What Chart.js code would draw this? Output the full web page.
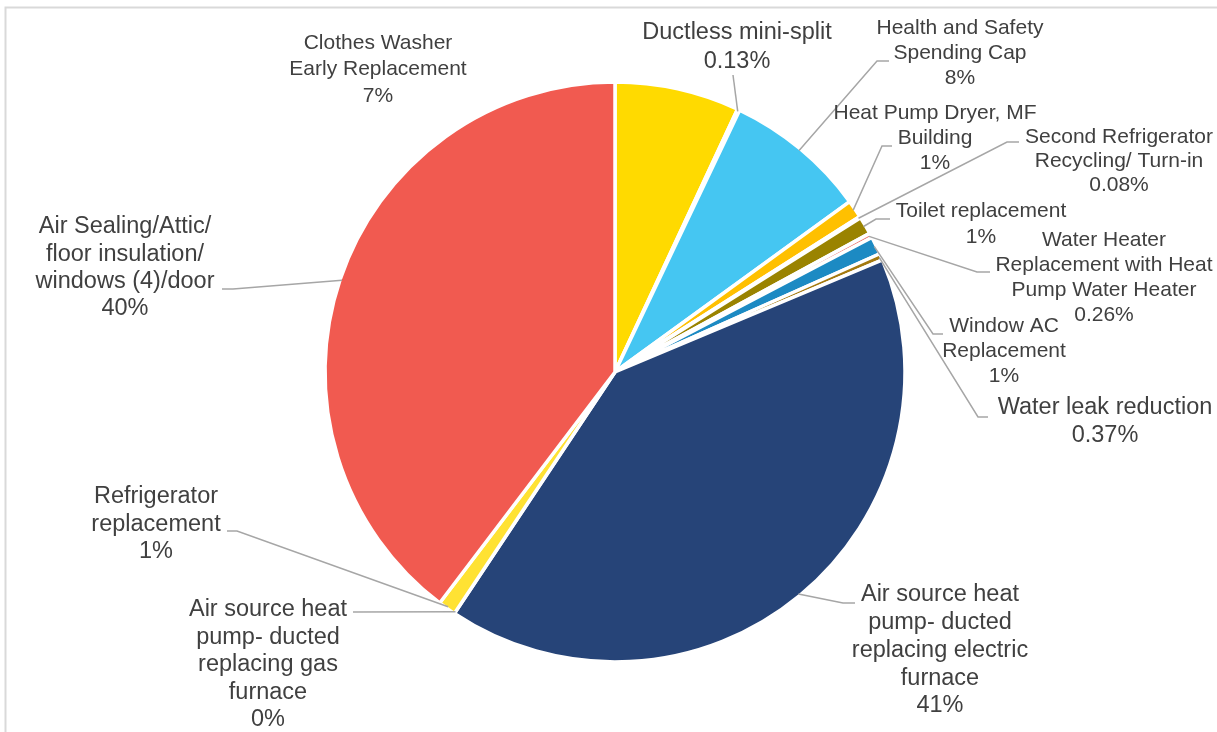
<!DOCTYPE html>
<html>
<head>
<meta charset="utf-8">
<script src="https://cdn.jsdelivr.net/npm/chart.js@4.4.1/dist/chart.umd.min.js"></script>
<style>
  html, body { margin: 0; padding: 0; background: #fff; }
  #wrap { position: relative; width: 1217px; height: 732px; }
</style>
</head>
<body>
<div id="wrap"><canvas id="pie"></canvas></div>
<script>
// measures, clockwise from 12 o'clock ("\n" marks where the label wraps)
const categories = [
  'Clothes Washer\nEarly Replacement',
  'Ductless mini-split',
  'Health and Safety\nSpending Cap',
  'Heat Pump Dryer, MF\nBuilding',
  'Second Refrigerator\nRecycling/ Turn-in',
  'Toilet replacement',
  'Water Heater\nReplacement with Heat\nPump Water Heater',
  'Window AC\nReplacement',
  'Water leak reduction',
  'Air source heat\npump- ducted\nreplacing electric\nfurnace',
  'Air source heat\npump- ducted\nreplacing gas\nfurnace',
  'Refrigerator\nreplacement',
  'Air Sealing/Attic/\nfloor insulation/\nwindows (4)/door'
];

// share of spending, percent
const shares = [7, 0.13, 8, 1, 0.08, 1, 0.26, 1, 0.37, 41, 0, 1, 40];

const sliceColors = [
  '#FFDA00', '#70AD47', '#45C6F2', '#FFC000', '#5B9BD5', '#9A8300', '#EC7B74',
  '#1C8AC3', '#A3790F', '#264478', '#4E7A2E', '#FFE233', '#F15A50'
];

// label placement: text centre x, first line y, line step, font size,
// leader points running from the label towards the slice
const labelLayout = [
  { x: 378, y: 43, step: 26.7, size: 21, leader: null },
  { x: 737, y: 33, step: 28.4, size: 23.5, leader: [[733, 75]] },
  { x: 960, y: 28, step: 25, size: 21, leader: [[889, 61], [877, 61]] },
  { x: 935, y: 113, step: 25, size: 21, leader: [[892, 146], [882, 146]] },
  { x: 1119, y: 137, step: 24.3, size: 21, leader: [[1019, 142], [1007, 142]] },
  { x: 981, y: 211, step: 26.6, size: 21, leader: [[890, 219], [876, 219]] },
  { x: 1104, y: 240, step: 25, size: 21, leader: [[990, 272], [977, 272]] },
  { x: 1004, y: 326, step: 25, size: 21, leader: [[943, 334], [933, 334]] },
  { x: 1105, y: 408, step: 28, size: 23.5, leader: [[988, 417], [978, 417]] },
  { x: 940, y: 595, step: 27.7, size: 23.5, leader: [[855, 603], [843, 603]] },
  { x: 268, y: 610, step: 27.5, size: 23.5, leader: [[353, 612]] },
  { x: 156, y: 497, step: 27.5, size: 23.5, leader: [[227, 531], [237, 531]] },
  { x: 125, y: 227, step: 27.2, size: 23.5, leader: [[222, 289], [233, 289]] }
];

const FONT = '"Liberation Sans", Arial, sans-serif';
const TEXT_COLOR = '#404040';
const LEADER_COLOR = '#A6A6A6';

// thin grey frame round the chart
const framePlugin = {
  id: 'frame',
  beforeDraw(chart) {
    const ctx = chart.ctx;
    ctx.save();
    ctx.strokeStyle = '#D9D9D9';
    ctx.lineWidth = 2;
    ctx.strokeRect(5.5, 7.5, 1400, 900);
    ctx.restore();
  }
};

// data labels with elbow leader lines
const calloutPlugin = {
  id: 'callouts',
  afterDatasetsDraw(chart) {
    const ctx = chart.ctx;
    const meta = chart.getDatasetMeta(0);
    ctx.save();
    meta.data.forEach((arc, i) => {
      const lay = labelLayout[i];
      const p = arc.getProps(['x', 'y', 'startAngle', 'endAngle', 'outerRadius'], true);
      const mid = (p.startAngle + p.endAngle) / 2;
      const r = p.outerRadius - 2;
      const ax = p.x + r * Math.cos(mid);
      const ay = p.y + r * Math.sin(mid);

      if (lay.leader) {
        ctx.strokeStyle = LEADER_COLOR;
        ctx.lineWidth = 1.5;
        ctx.beginPath();
        ctx.moveTo(lay.leader[0][0], lay.leader[0][1]);
        lay.leader.slice(1).forEach(pt => ctx.lineTo(pt[0], pt[1]));
        ctx.lineTo(ax, ay);
        ctx.stroke();
      }

      const lines = chart.data.labels[i].split('\n').concat(shares[i] + '%');
      ctx.fillStyle = TEXT_COLOR;
      ctx.font = lay.size + 'px ' + FONT;
      ctx.textAlign = 'center';
      ctx.textBaseline = 'middle';
      lines.forEach((line, k) => {
        ctx.fillText(line, lay.x, lay.y + k * lay.step);
      });
    });
    ctx.restore();
  }
};

new Chart(document.getElementById('pie'), {
  type: 'pie',
  data: {
    labels: categories,
    datasets: [{
      data: shares,
      backgroundColor: sliceColors,
      borderColor: '#FFFFFF',
      borderWidth: 3.5
    }]
  },
  options: {
    responsive: true,
    maintainAspectRatio: false,
    devicePixelRatio: 1,
    animation: false,
    radius: 290,
    layout: { padding: { left: 13, right: 0, top: 12, bottom: 0 } },
    plugins: {
      legend: { display: false },
      tooltip: { enabled: false }
    }
  },
  plugins: [framePlugin, calloutPlugin]
});
</script>
</body>
</html>
